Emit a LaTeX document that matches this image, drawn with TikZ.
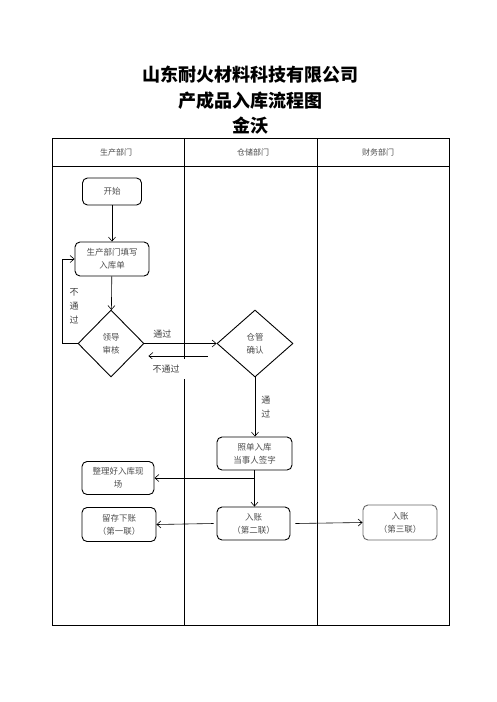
\documentclass[tikz,border=0pt]{standalone}
\usepackage{fontspec}
\setmainfont{Noto Sans CJK SC}
\usetikzlibrary{shapes.geometric,arrows.meta}

\tikzset{
  flowbox/.style={draw, rounded corners=5pt, line width=0.9pt, align=center,
                  minimum width=74pt, minimum height=33pt, inner sep=1pt,
                  text=black!70},
  decide/.style={draw, diamond, line width=0.9pt, align=center, inner sep=0pt,
                 minimum width=68pt, minimum height=67pt, text=black!70},
  lbl/.style={font=\fontsize{9}{14}\selectfont, text=black!75, align=center, inner sep=1pt},
  head/.style={font=\fontsize{8}{10}\selectfont, text=black!70},
}

\begin{document}
\begin{tikzpicture}[x=1pt,y=-1pt,->,>={Straight Barb[length=4pt,width=7pt]},
                    line width=0.6pt, font=\fontsize{8.5}{13}\selectfont]
  \useasboundingbox (0,0) rectangle (496,702);

  % title
  \node[font=\fontsize{18}{20}\selectfont\bfseries] (title1) at (250,75) {山东耐火材料科技有限公司};
  \node[font=\fontsize{18}{20}\selectfont\bfseries] (title2) at (250,101) {产成品入库流程图};
  \node[font=\fontsize{18}{20}\selectfont\bfseries] (title3) at (250,126) {金沃};

  % swimlanes
  \draw[-, line width=0.8pt] (52,138) rectangle (449,625);
  \draw[-, line width=0.8pt] (52,166) -- (449,166);
  \draw[-, line width=0.8pt] (184,138) -- (184,625);
  \draw[-, line width=0.8pt] (317,138) -- (317,625);
  \node[head] (lane1) at (116,152) {生产部门};
  \node[head] (lane2) at (253,152) {仓储部门};
  \node[head] (lane3) at (378,152) {财务部门};

  % nodes
  \node[flowbox, minimum width=59pt, minimum height=27pt] (start) at (112,191.5) {开始};
  \node[flowbox, minimum height=34pt] (fill)  at (112,259)   {生产部门填写\\入库单};
  \node[decide, minimum width=66pt]   (lead)  at (111,343.5) {领导\\审核};
  \node[decide, minimum width=76pt]   (check) at (255,343.5) {仓管\\确认};
  \node[flowbox, minimum width=75pt]  (record) at (254.5,453.5) {照单入库\\当事人签字};
  \node[flowbox, minimum width=72pt]  (tidy)  at (118,478)   {整理好入库现\\场};
  \node[flowbox, minimum width=73pt]  (acct2) at (253.5,523.5) {入账\\（第二联）};
  \node[flowbox, minimum height=34pt] (keep)  at (119,524.5) {留存下账\\（第一联）};
  \node[flowbox, minimum height=35pt, draw=black!60] (acct3) at (400,522.5) {入账\\（第三联）};
  \coordinate (back) at (62,343.5);

  % connectors
  \draw (start) -- (fill);
  \draw (fill) -- (lead);
  \draw (lead.west) -- (back) |- (fill.west);
  \node[lbl] (nopass1) at (74,306) {不\\通\\过};
  \draw (lead.east) -- node[lbl, pos=0.25, above=4pt] {通过} (check.west);
  \draw ([xshift=-9pt,yshift=-12.5pt]check.west) --
        node[lbl, pos=0.7, below=3pt, fill=white, inner xsep=8pt, inner ysep=5.5pt] {不通过}
        ([xshift=4pt,yshift=-12.5pt]lead.east);
  \draw (check.south) -- node[lbl, right=5pt] {通\\过} (record.north -| check.south);
  \draw (record.south) -- (acct2.north -| record.south);
  \draw (record.south |- tidy.east) -- (tidy.east);
  \draw ([xshift=-3pt]acct2.west) -- (keep.east);
  \draw ([xshift=5pt]acct2.east) -- (acct3.west);
\end{tikzpicture}
\end{document}
